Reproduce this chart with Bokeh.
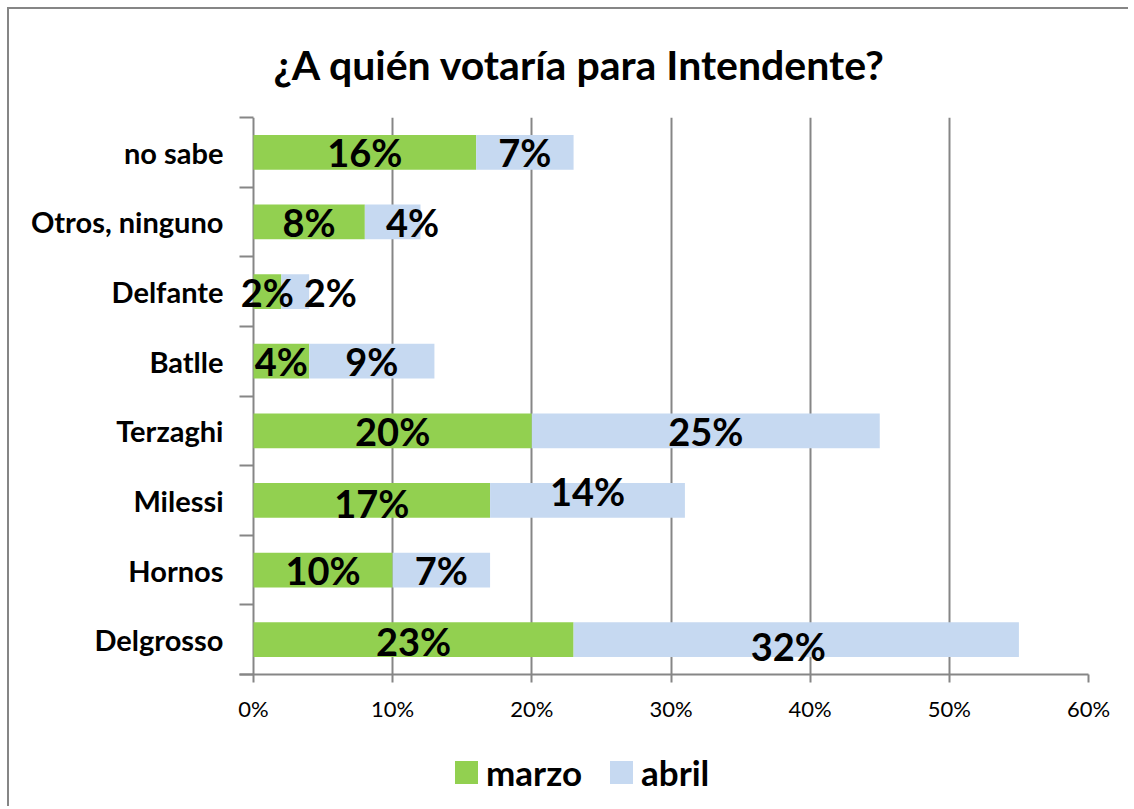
from bokeh.plotting import figure
from bokeh.layouts import column
from bokeh.models import (ColumnDataSource, Range1d, FixedTicker, NumeralTickFormatter,
                          Title, LabelSet, Div)
from bokeh.core.properties import value
from bokeh.embed import file_html
from bokeh.resources import INLINE

# ---- data (bottom to top) ----
categories = ["Delgrosso", "Hornos", "Milessi", "Terzaghi", "Batlle", "Delfante",
              "Otros, ninguno", "no sabe"]
marzo = [23, 10, 17, 20, 4, 2, 8, 16]
abril = [32, 7, 14, 25, 9, 2, 4, 7]
x_ticks = [0, 10, 20, 30, 40, 50, 60]
series_names = ["marzo", "abril"]

# label nudges in screen pixels (manual label placement in the original; +y = down)
marzo_dx = [0, 0, 0, 0, 0, 0, 0, 0]
marzo_dy = [1, 0, 3, 0, 0, 0, 0, 0]
abril_dx = [-8, 0, 0, 0, 0, 35, 20, 0]
abril_dy = [6, 0, -9, 0, 0, 0, 0, 0]

FONT = "Lato"
GREEN = "#92D050"
BLUE = "#C6D9F1"
GRAY = "#868686"
series_colors = [GREEN, BLUE]

# frame geometry: 835 px for 0..60 %, plus 14 px to the left of 0 for the outward y ticks
PLOT_W = 835
TICK_PX = 14
LEFT, RIGHT = 230, 40
TOTAL_W = LEFT + PLOT_W + TICK_PX + RIGHT
xmax = max(x_ticks) / 100
xpad = xmax * TICK_PX / PLOT_W

ypos = list(range(len(categories)))
m = [v / 100 for v in marzo]
a = [v / 100 for v in abril]
ends = [mm + aa for mm, aa in zip(m, a)]

src = ColumnDataSource(dict(
    y=ypos, m=m, a=a, end=ends,
    mlab=[f"{v}%" for v in marzo], alab=[f"{v}%" for v in abril],
    mx=[v / 2 for v in m], ax=[mm + aa / 2 for mm, aa in zip(m, a)],
    mdx=marzo_dx, mdy=[-v for v in marzo_dy], adx=abril_dx, ady=[-v for v in abril_dy],
))

p = figure(frame_width=PLOT_W + TICK_PX, frame_height=557, output_backend="svg",
           toolbar_location=None,
           x_range=Range1d(-xpad, xmax), y_range=Range1d(-0.5, len(categories) - 0.5),
           min_border_left=LEFT, min_border_right=RIGHT, min_border_top=106,
           min_border_bottom=60, title=None)

p.outline_line_color = None
p.background_fill_color = "white"
p.border_fill_color = "white"

# x grid (the line at 0 % doubles as the y axis line)
p.xgrid.grid_line_color = GRAY
p.xgrid.grid_line_width = 2
p.ygrid.grid_line_color = None

p.hbar(y="y", left=0, right="m", height=0.5, source=src, fill_color=GREEN, line_color=None)
p.hbar(y="y", left="m", right="end", height=0.5, source=src, fill_color=BLUE, line_color=None)

for xf, tf, dxf, dyf in [("mx", "mlab", "mdx", "mdy"), ("ax", "alab", "adx", "ady")]:
    p.add_layout(LabelSet(x=xf, y="y", text=tf, source=src, x_offset=dxf, y_offset=dyf,
                          text_font=value(FONT), text_font_style="bold",
                          text_font_size="38px", text_align="center",
                          text_baseline="middle", text_color="black"))

# x axis
p.xaxis.ticker = FixedTicker(ticks=[t / 100 for t in x_ticks])
p.xaxis.formatter = NumeralTickFormatter(format="0%")
p.xaxis.axis_line_color = GRAY
p.xaxis.axis_line_width = 2
p.xaxis.major_tick_line_color = GRAY
p.xaxis.major_tick_line_width = 2
p.xaxis.major_tick_out = 8
p.xaxis.major_tick_in = 0
p.xaxis.minor_tick_line_color = None
p.xaxis.major_label_text_font = FONT
p.xaxis.major_label_text_font_size = "22px"
p.xaxis.major_label_text_color = "black"
p.xaxis.major_label_standoff = 12

# y axis (categories at integer positions, ticks at category boundaries)
p.yaxis.ticker = FixedTicker(ticks=ypos, minor_ticks=[i - 0.5 for i in range(len(categories) + 1)])
p.yaxis.major_label_overrides = {i: c for i, c in enumerate(categories)}
p.yaxis.axis_line_color = None
p.yaxis.major_tick_line_color = None
p.yaxis.minor_tick_line_color = GRAY
p.yaxis.minor_tick_line_width = 2
p.yaxis.minor_tick_out = 0
p.yaxis.minor_tick_in = TICK_PX
p.yaxis.major_label_text_font = FONT
p.yaxis.major_label_text_font_style = "bold"
p.yaxis.major_label_text_font_size = "29px"
p.yaxis.major_label_text_color = "black"
p.yaxis.major_label_standoff = 10

title = Title(text="¿A quién votaría para Intendente?", align="left", offset=34,
              text_font=FONT, text_font_style="bold", text_font_size="41px",
              text_color="black", standoff=57)
p.add_layout(title, "above")

# legend strip below the chart (HTML, real text)
items_html = "".join(
    f'<span style="display:inline-block;width:23px;height:23px;background:{c};'
    f'margin-right:8px;{"margin-left:28px;" if i else ""}"></span>'
    f'<span style="font-family:{FONT};font-weight:bold;font-size:35px;color:black;'
    f'line-height:42px;">{name}</span>'
    for i, (name, c) in enumerate(zip(series_names, series_colors))
)
legend_div = Div(
    text=(f'<div style="box-sizing:border-box;height:72px;width:{TOTAL_W}px;display:flex;'
          f'align-items:center;padding-left:446px;padding-top:4px;">{items_html}</div>'),
    width=TOTAL_W, height=72, styles={"margin": "0", "padding": "0"})

layout = column(p, legend_div, spacing=0)
layout.styles = {"margin": "7px 0 0 7px",
                 "border-left": f"2px solid {GRAY}", "border-top": f"2px solid {GRAY}"}

open("out.html", "w").write(file_html(layout, INLINE))
